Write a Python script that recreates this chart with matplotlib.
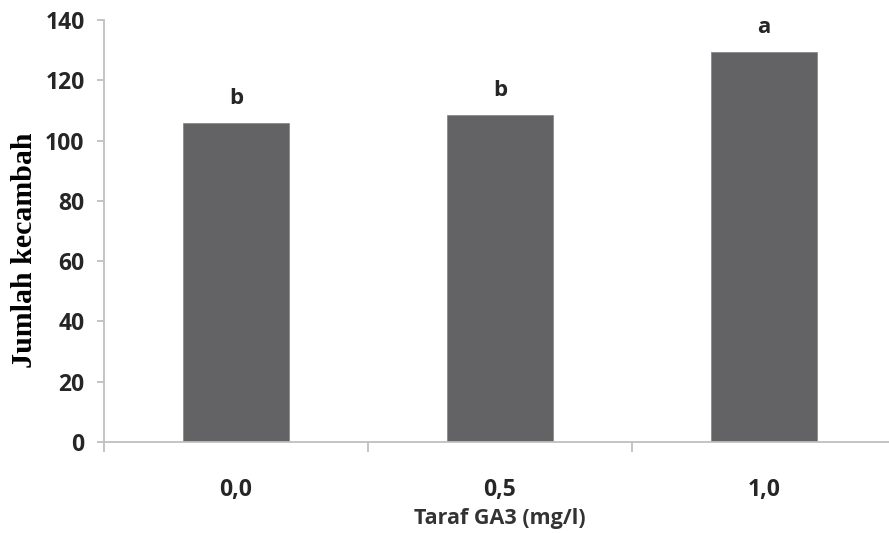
import numpy as np
import matplotlib.pyplot as plt

levels = ["0,0", "0,5", "1,0"]
counts = [105.8, 108.5, 129.4]
letters = ["b", "b", "a"]

plt.rcParams['font.family'] = ['Open Sans', 'DejaVu Sans']

fig = plt.figure(figsize=(8.89, 5.34), dpi=100)
ax = fig.add_axes([104/889, 92/534, 792/889, 422/534])

x = np.arange(len(levels))
ax.bar(x, counts, width=0.4, color="#636366", edgecolor="#8a8a8e", linewidth=0.6)

for xi, v, lab in zip(x, counts, letters):
    ax.annotate(lab, (xi, v), xytext=(0, 10), textcoords="offset points",
                ha="center", va="bottom", fontsize=16, fontweight="bold", color="#262626")

ax.set_xlim(-0.5, 2.5)
ax.set_ylim(0, 140)
ax.set_yticks(np.arange(0, 141, 20))
ax.set_xticks(x)
ax.set_xticklabels(levels)
ax.set_xticks([-0.5, 0.5, 1.5, 2.5], minor=True)

for s in ["top", "right"]:
    ax.spines[s].set_visible(False)
for s in ["left", "bottom"]:
    ax.spines[s].set_color("#bfbfbf")
    ax.spines[s].set_linewidth(1.3)

ax.tick_params(axis="y", length=5, width=1.3, color="#bfbfbf", pad=9,
               labelsize=16.5, labelcolor="#262626")
ax.tick_params(axis="x", which="major", length=0, pad=26,
               labelsize=16.5, labelcolor="#262626")
ax.tick_params(axis="x", which="minor", length=7, width=1.3, color="#bfbfbf")
for t in ax.get_xticklabels() + ax.get_yticklabels():
    t.set_fontweight("bold")

ax.set_xlabel("Taraf GA3 (mg/l)", fontsize=15.5, fontweight="bold", color="#333333", labelpad=4)
fig.text(25/889, 0.532, "Jumlah kecambah", rotation=90, ha="center", va="center",
         fontsize=21.5, fontweight="bold", family="Liberation Serif", color="#000000")

fig.savefig("out.png", dpi=100)
